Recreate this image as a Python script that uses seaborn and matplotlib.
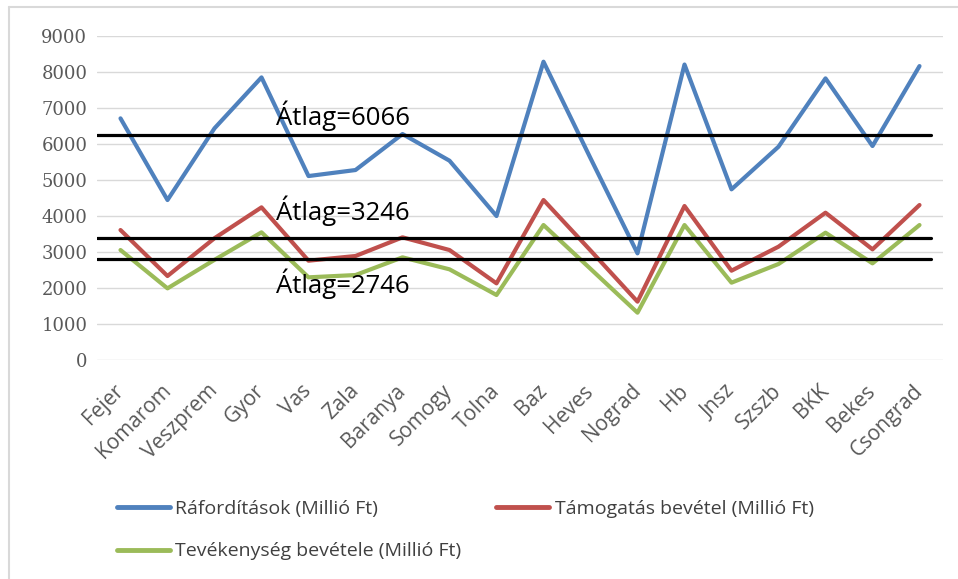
import matplotlib
matplotlib.use("Agg")
import matplotlib.pyplot as plt
import seaborn as sns
import pandas as pd
from matplotlib.lines import Line2D

counties = ["Fejer", "Komarom", "Veszprem", "Gyor", "Vas", "Zala", "Baranya",
            "Somogy", "Tolna", "Baz", "Heves", "Nograd", "Hb", "Jnsz", "Szszb",
            "BKK", "Bekes", "Csongrad"]
raforditas = [6706, 4440, 6430, 7843, 5105, 5272, 6271, 5531, 3996, 8278, 5600,
              2960, 8200, 4736, 5919, 7816, 5938, 8157]
tamogatas = [3607, 2331, 3380, 4236, 2756, 2886, 3404, 3052, 2127, 4440, 3040,
             1619, 4273, 2479, 3145, 4088, 3071, 4301]
tevekenyseg = [3052, 1988, 2780, 3543, 2294, 2358, 2849, 2516, 1804, 3746, 2530,
               1313, 3746, 2146, 2664, 3533, 2682, 3746]
series_names = ["Ráfordítások (Millió Ft)", "Támogatás bevétel (Millió Ft)",
                "Tevékenység bevétele (Millió Ft)"]
series_colors = ["#4F81BD", "#C0504D", "#9BBB59"]
avg_labels = ["Átlag=6066", "Átlag=3246", "Átlag=2746"]
avg_line_levels = [6235, 3377, 2794]
y_ticks = [0, 1000, 2000, 3000, 4000, 5000, 6000, 7000, 8000, 9000]

sns.set_theme(style="white")
plt.rcParams["font.family"] = ["Open Sans", "DejaVu Sans"]

rows = []
for name, vals in zip(series_names, [raforditas, tamogatas, tevekenyseg]):
    for c, v in zip(counties, vals):
        rows.append({"megye": c, "ertek": v, "sorozat": name})
df = pd.DataFrame(rows)

fig = plt.figure(figsize=(9.58, 5.79), dpi=100)
ax = fig.add_axes([97/958, 1-360/579, 846/958, 324.3/579])

sns.lineplot(data=df, x="megye", y="ertek", hue="sorozat", palette=series_colors,
             hue_order=series_names, sort=False, linewidth=3.0, ax=ax, legend=False)

ax.set_xlim(-0.5, len(counties) - 0.5)
ax.set_ylim(0, 9000)
ax.set_yticks(y_ticks)
ax.set_yticklabels([str(t) for t in y_ticks], family="DejaVu Serif", fontsize=13,
                   color="#595959")
ax.set_xticks(range(len(counties)))
ax.set_xticklabels(counties, rotation=45, ha="right", va="center",
                   rotation_mode="anchor", fontsize=15, color="#595959")
ax.tick_params(axis="both", length=0)
ax.tick_params(axis="y", pad=7)
ax.tick_params(axis="x", pad=20)
ax.set_xlabel("")
ax.set_ylabel("")
for s in ax.spines.values():
    s.set_visible(False)
ax.grid(axis="y", color="#D9D9D9", linewidth=1.0)
ax.set_axisbelow(True)

for lvl in avg_line_levels:
    ax.axhline(lvl, xmin=0, xmax=0.986, color="black", linewidth=2.3, zorder=5)

label_y = [0.7246, 0.4317, 0.2066]
for txt, yy in zip(avg_labels, label_y):
    ax.text(0.2116, yy, txt, transform=ax.transAxes, fontsize=18.5, color="black",
            ha="left", va="baseline", zorder=6)

# figure border (top and left visible in reference)
fig.add_artist(Line2D([9/958, 9/958], [0, 1-7/579], transform=fig.transFigure,
                      color="#D9D9D9", linewidth=1.5))
fig.add_artist(Line2D([9/958, 1], [1-7/579, 1-7/579], transform=fig.transFigure,
                      color="#D9D9D9", linewidth=1.5))

handles = [Line2D([], [], color=c, linewidth=3.5) for c in series_colors]
order = [0, 2, 1]
leg = fig.legend([handles[i] for i in order], [series_names[i] for i in order],
                 ncol=2, loc="upper left", bbox_to_anchor=(117/958, 1-500/579),
                 frameon=False, fontsize=14, handlelength=2.7, handletextpad=0.3,
                 columnspacing=1.8, labelspacing=1.25, borderpad=0, borderaxespad=0)
for t in leg.get_texts():
    t.set_color("#404040")

fig.savefig("out.png", dpi=100)
